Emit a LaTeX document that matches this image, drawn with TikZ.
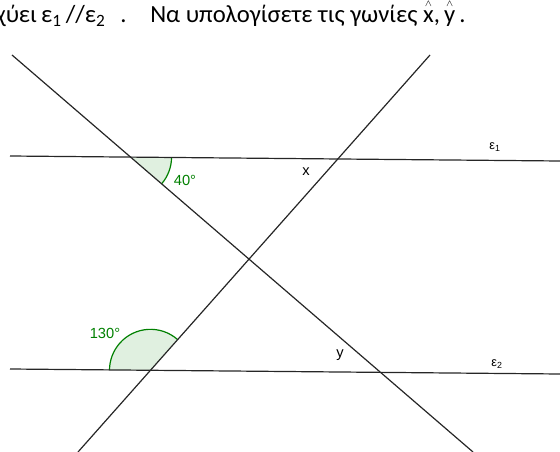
\documentclass[tikz,border=0pt]{standalone}
\usepackage{fontspec}
\setmainfont{Carlito}
\newfontfamily\geofont{Liberation Sans}
\usetikzlibrary{angles}
\definecolor{geogreen}{RGB}{0,128,0}
\newcommand{\hatted}[1]{\leavevmode\setbox0\hbox{#1}\rlap{\hbox to\wd0{\hss\raisebox{0.68em}{\scriptsize$\wedge$}\hss}}#1}

\begin{document}
\begin{tikzpicture}[x=0.75pt, y=-0.75pt,
            line/.style = {draw=black!85, line width=0.9pt},
            wedge/.style = {draw=geogreen, fill=geogreen!12, line width=0.9pt, angle radius=30.75pt},
            angtext/.style = {text=geogreen, font=\geofont\fontsize{11}{13}\selectfont},
            lbl/.style = {font=\geofont\fontsize{11}{13}\selectfont},
            small/.style = {font=\geofont\fontsize{9.5}{11}\selectfont},
            title/.style = {anchor=base west, inner sep=0pt, font=\fontsize{18.5}{22}\selectfont},
        ]
            \useasboundingbox (0,0) rectangle (560,452);
            \clip (0,0) rectangle (560,452);

            % End points of the two parallels and the two transversals
            \coordinate (e1L) at (10,156);
            \coordinate (e1R) at (560,161);
            \coordinate (e2L) at (10,369);
            \coordinate (e2R) at (560,374);
            \coordinate (dT) at (12,55);
            \coordinate (dB) at (473,452);
            \coordinate (aT) at (430,55);
            \coordinate (aB) at (78,452);

            % Crossing points
            \coordinate (A) at (intersection of e1L--e1R and dT--dB);
            \coordinate (B) at (intersection of e2L--e2R and aT--aB);

            % Known angles (under the lines)
            \pic[wedge] {angle = dB--A--e1R};
            \pic[wedge] {angle = aT--B--e2L};

            % Lines
            \draw[line] (e1L) -- (e1R);
            \draw[line] (e2L) -- (e2R);
            \draw[line] (dT) -- (dB);
            \draw[line] (aT) -- (aB);

            % Labels
            \node[angtext] (lab40) at (185,180) {40°};
            \node[angtext] (lab130) at (105,333) {130°};
            \node[lbl] (labx) at (306,172) {x};
            \node[lbl] (laby) at (340,355) {y};
            \node[small] (labe1) at (495,147) {ε\textsubscript{1}};
            \node[small] (labe2) at (497,364) {ε\textsubscript{2}};

            % Title line (cut at the left edge)
            \node[title] (title1) at (-5,23)
                {χύει\,ε\textsubscript{1}\,//ε\textsubscript{2}\hspace{0.6em}.};
            \node[title] (title2) at (150,23)
                {Να υπολογίσετε τις γωνίες \hatted{x},\,\hatted{y}\,.};
        \end{tikzpicture}
\end{document}
